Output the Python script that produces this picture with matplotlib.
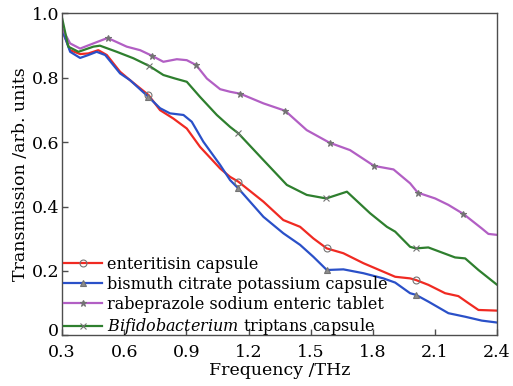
"""THz transmission spectra of four capsules/tablets."""
import matplotlib
matplotlib.use("Agg")
import matplotlib.pyplot as plt
import matplotlib.transforms as mtransforms

plt.rcParams["font.family"] = ["DejaVu Serif"]
plt.rcParams["mathtext.fontset"] = "dejavuserif"

# enteritisin capsule
red_f = [0.30, 0.339, 0.387, 0.427, 0.475, 0.516, 0.58, 0.628, 0.717, 0.773,
         0.837, 0.902, 0.966, 1.063, 1.111, 1.151, 1.272, 1.368, 1.449, 1.513,
         1.578, 1.658, 1.755, 1.868, 1.908, 1.98, 2.008, 2.068, 2.149, 2.213,
         2.262, 2.31, 2.40]
red_t = [0.947, 0.885, 0.873, 0.875, 0.885, 0.870, 0.818, 0.792, 0.746, 0.699,
         0.673, 0.642, 0.585, 0.518, 0.492, 0.477, 0.415, 0.358, 0.337, 0.301,
         0.270, 0.255, 0.224, 0.193, 0.182, 0.177, 0.172, 0.157, 0.131, 0.122,
         0.100, 0.079, 0.077]
red_mf = [0.717, 1.151, 1.578, 2.008]
red_mt = [0.746, 0.477, 0.270, 0.172]

# bismuth citrate potassium capsule
blue_f = [0.30, 0.339, 0.387, 0.427, 0.467, 0.508, 0.58, 0.628, 0.717, 0.773,
          0.821, 0.886, 0.926, 0.982, 1.063, 1.111, 1.151, 1.272, 1.368, 1.449,
          1.513, 1.578, 1.658, 1.755, 1.851, 1.908, 1.98, 2.008, 2.068, 2.165,
          2.246, 2.326, 2.40]
blue_t = [0.950, 0.880, 0.861, 0.870, 0.880, 0.870, 0.813, 0.792, 0.740,
          0.705, 0.689, 0.684, 0.663, 0.601, 0.529, 0.482, 0.456, 0.368, 0.317,
          0.281, 0.244, 0.203, 0.205, 0.193, 0.177, 0.164, 0.131, 0.126, 0.105,
          0.069, 0.058, 0.046, 0.040]
blue_mf = [0.717, 1.151, 1.578, 2.008]
blue_mt = [0.740, 0.456, 0.203, 0.126]

# rabeprazole sodium enteric tablet
purple_f = [0.30, 0.339, 0.387, 0.451, 0.52, 0.612, 0.677, 0.733, 0.789,
            0.854, 0.902, 0.947, 0.999, 1.063, 1.111, 1.16, 1.272, 1.377,
            1.481, 1.591, 1.69, 1.806, 1.90, 1.98, 2.017, 2.101, 2.165, 2.237,
            2.326, 2.358, 2.40]
purple_t = [0.953, 0.906, 0.890, 0.906, 0.923, 0.896, 0.885, 0.868, 0.849,
            0.857, 0.854, 0.839, 0.797, 0.764, 0.756, 0.750, 0.720, 0.697,
            0.637, 0.598, 0.575, 0.526, 0.515, 0.472, 0.443, 0.425, 0.405,
            0.377, 0.332, 0.315, 0.312]
purple_mf = [0.52, 0.733, 0.947, 1.16, 1.377, 1.591, 1.806, 2.017, 2.237]
purple_mt = [0.923, 0.868, 0.839, 0.750, 0.697, 0.598, 0.526, 0.443, 0.377]

# Bifidobacterium triptans capsule
green_f = [0.30, 0.33, 0.379, 0.451, 0.483, 0.564, 0.644, 0.721, 0.789, 0.846,
           0.902, 0.966, 1.047, 1.111, 1.151, 1.272, 1.385, 1.481, 1.575,
           1.675, 1.787, 1.868, 1.908, 1.98, 2.008, 2.068, 2.197, 2.246, 2.31,
           2.40]
green_t = [0.985, 0.896, 0.880, 0.896, 0.899, 0.880, 0.860, 0.836, 0.808,
           0.797, 0.787, 0.740, 0.684, 0.647, 0.627, 0.544, 0.467, 0.436,
           0.425, 0.446, 0.379, 0.337, 0.322, 0.275, 0.270, 0.273, 0.242,
           0.239, 0.203, 0.157]
green_mf = [0.721, 1.151, 1.575, 2.008]
green_mt = [0.836, 0.627, 0.425, 0.270]

labels = ["enteritisin capsule",
          "bismuth citrate potassium capsule",
          "rabeprazole sodium enteric tablet",
          r"$\it{Bifidobacterium}$ triptans capsule"]
xticks = [0.3, 0.6, 0.9, 1.2, 1.5, 1.8, 2.1, 2.4]
yticks = [0.0, 0.2, 0.4, 0.6, 0.8, 1.0]
ytick_labels = ["0", "0.2", "0.4", "0.6", "0.8", "1.0"]


def main():
    fig = plt.figure(figsize=(5.13, 3.86), dpi=100)
    ax = fig.add_axes([0.121, 0.131, 0.848, 0.835])

    series = [
        (red_f, red_t, red_mf, red_mt, "#f02a22", "o", "none"),
        (blue_f, blue_t, blue_mf, blue_mt, "#2a50c8", "^", "0.55"),
        (purple_f, purple_t, purple_mf, purple_mt, "#b25fc4", "*", "0.45"),
        (green_f, green_t, green_mf, green_mt, "#2e7f2e", "x", "0.45"),
    ]
    handles = []
    for f, t, mf, mt, color, marker, face in series:
        ax.plot(f, t, color=color, lw=1.6, solid_joinstyle="round",
                solid_capstyle="round", zorder=2)
        ax.plot(mf, mt, ls="none", marker=marker, ms=5, mfc=face,
                mec="0.45", mew=0.8, zorder=3)
        h, = ax.plot([], [], color=color, lw=1.6, marker=marker, ms=5,
                     mfc=face, mec="0.45", mew=0.8)
        handles.append(h)

    ax.legend(handles, labels, loc="lower left",
              bbox_to_anchor=(-0.01, -0.025), frameon=False, fontsize=11.5,
              handlelength=2.4, handletextpad=0.3, labelspacing=0.2,
              borderaxespad=0.0)

    ax.set_xlim(0.3, 2.4)
    ax.set_ylim(0.0, 1.0)
    ax.set_xticks(xticks, labels=[f"{v:.1f}" for v in xticks])
    ax.set_yticks(yticks, labels=ytick_labels)
    ax.tick_params(direction="in", length=4, width=1, labelsize=12.5,
                   color="0.3", pad=2)
    ax.tick_params(axis="x", pad=6)
    # lift the "0" label a little so it clears "0.3"
    zero = ax.get_yticklabels()[0]
    zero.set_transform(zero.get_transform() + mtransforms.ScaledTranslation(
        0, 4 / 72, fig.dpi_scale_trans))
    for s in ax.spines.values():
        s.set_color("0.3")
        s.set_linewidth(1.0)
    ax.set_xlabel("Frequency /THz", fontsize=12.5, labelpad=1)
    ax.set_ylabel("Transmission /arb. units", fontsize=12.5, labelpad=2)

    fig.savefig("out.png")
    plt.close(fig)


if __name__ == "__main__":
    main()
